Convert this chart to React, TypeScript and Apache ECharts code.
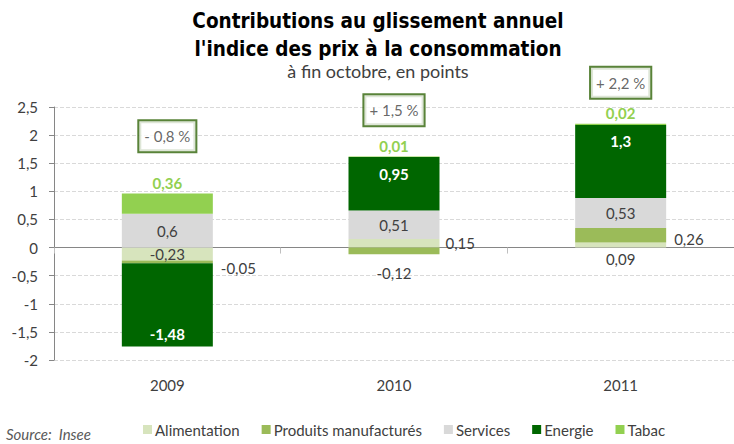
import React, { useEffect, useRef } from "react";
import * as echarts from "echarts";

const categories = ["2009", "2010", "2011"];
const alimentation = [-0.23, 0.15, 0.09];
const produits = [-0.05, -0.12, 0.26];
const services = [0.6, 0.51, 0.53];
const energie = [-1.48, 0.95, 1.3];
const tabac = [0.36, 0.01, 0.02];
const totals = ["- 0,8 %", "+ 1,5 %", "+ 2,2 %"];

// layout-only settings
const alimLabelPos = ["inside", "right", "bottom"];
const prodLabelPos = ["right", "bottom", "right"];
const energieLabelPos = ["insideBottom", "insideTop", "insideTop"];
const totalBoxY = [1.98, 2.44, 2.93];

const FONT = "Lato, 'Open Sans', sans-serif";
const TXT = "#404040";
const fmt = (v: number) => String(v).replace(".", ",");

export default function App() {
  const ref = useRef<HTMLDivElement>(null);
  useEffect(() => {
    if (!ref.current) return;
    const chart = echarts.init(ref.current, null, { renderer: "svg" });
    const baseLabel = {
      show: true,
      fontFamily: FONT,
      fontSize: 15,
      color: TXT,
      formatter: (p: any) => fmt(p.value),
    };
    chart.setOption({
      animation: false,
      backgroundColor: "#fff",
      textStyle: { fontFamily: FONT },
      graphic: [
        {
          type: "text",
          x: 378,
          y: 7,
          style: {
            text: "Contributions au glissement annuel\nl'indice des prix à la consommation",
            textAlign: "center",
            fontFamily: "'DejaVu Sans Condensed', 'Liberation Sans Narrow', sans-serif",
            fontWeight: "bold",
            fontSize: 20.5,
            lineHeight: 28,
            fill: "#000",
          },
        },
        {
          type: "text",
          x: 378,
          y: 62,
          style: {
            text: "à fin octobre, en points",
            textAlign: "center",
            fontFamily: FONT,
            fontSize: 18,
            fill: TXT,
          },
        },
        {
          type: "text",
          x: 6,
          y: 426,
          style: {
            text: "Source:  Insee",
            fontFamily: FONT,
            fontStyle: "italic",
            fontSize: 15,
            fill: "#595959",
          },
        },
      ],
      legend: {
        bottom: 2,
        left: 138,
        icon: "rect",
        itemWidth: 9,
        itemHeight: 9,
        itemGap: 22,
        data: ["Alimentation", "Produits manufacturés", "Services", "Energie", "Tabac"],
        textStyle: { fontFamily: FONT, fontSize: 15, color: TXT, padding: [0, 0, 0, -2] },
      },
      grid: { left: 54, top: 107, bottom: 84, right: -7 },
      xAxis: [
        {
          type: "category",
          data: categories,
          position: "bottom",
          axisLine: { show: false, onZero: false },
          axisTick: { show: false },
          axisLabel: { margin: 17, fontSize: 15, color: TXT, fontFamily: FONT },
        },
        {
          type: "category",
          data: categories,
          position: "bottom",
          axisLine: { show: true, onZero: true, lineStyle: { color: "#868686", width: 1 } },
          axisTick: { show: true, length: 6, lineStyle: { color: "#bfbfbf" } },
          axisLabel: { show: false },
        },
      ],
      yAxis: {
        type: "value",
        min: -2,
        max: 2.5,
        interval: 0.5,
        axisLine: { show: true, lineStyle: { color: "#868686" } },
        axisTick: { show: true, length: 5, lineStyle: { color: "#868686" } },
        axisLabel: {
          margin: 16,
          fontSize: 15,
          color: TXT,
          fontFamily: FONT,
          formatter: (v: number) => fmt(v),
        },
        splitLine: { show: true, lineStyle: { color: "#d9d9d9", type: "dashed" } },
      },
      series: [
        {
          name: "Alimentation",
          type: "bar",
          stack: "s",
          barWidth: 91,
          itemStyle: { color: "#d7e4bd" },
          label: baseLabel,
          data: alimentation.map((v, i) => ({
            value: v,
            label: { position: alimLabelPos[i], distance: i === 2 ? 4 : 6 },
          })),
        },
        {
          name: "Produits manufacturés",
          type: "bar",
          stack: "s",
          itemStyle: { color: "#9bbb59" },
          label: baseLabel,
          data: produits.map((v, i) => ({
            value: v,
            label: {
              position: prodLabelPos[i],
              distance: i === 1 ? 11 : 8,
              offset: i === 0 ? [0, 6] : i === 2 ? [0, 4] : [0, 0],
            },
          })),
        },
        {
          name: "Services",
          type: "bar",
          stack: "s",
          itemStyle: { color: "#d9d9d9" },
          label: { ...baseLabel, position: "inside" },
          data: services,
        },
        {
          name: "Energie",
          type: "bar",
          stack: "s",
          itemStyle: { color: "#006600" },
          label: { ...baseLabel, color: "#fff", fontWeight: "bold", fontSize: 15 },
          data: energie.map((v, i) => ({
            value: v,
            label: { position: energieLabelPos[i], distance: i === 0 ? 5 : 9 },
          })),
        },
        {
          name: "Tabac",
          type: "bar",
          stack: "s",
          itemStyle: { color: "#92d050" },
          label: {
            ...baseLabel,
            position: "top",
            distance: 3,
            color: "#92d050",
            fontWeight: "bold",
            fontSize: 15,
          },
          data: tabac,
        },
        {
          name: "Total",
          type: "scatter",
          symbolSize: 0,
          clip: false,
          silent: true,
          data: totalBoxY.map((y, i) => [i, y]),
          label: {
            show: true,
            position: "inside",
            formatter: (p: any) => totals[p.dataIndex],
            fontFamily: FONT,
            fontSize: 15,
            color: TXT,
            backgroundColor: "#fff",
            borderColor: "#2f6408",
            borderWidth: 2,
            padding: [8, 5, 7, 5],
          },
        },
      ],
    });
    return () => chart.dispose();
  }, []);
  return (
    <div
      ref={ref}
      style={{ position: "fixed", left: 0, top: 0, width: 734, height: 444 }}
    />
  );
}
